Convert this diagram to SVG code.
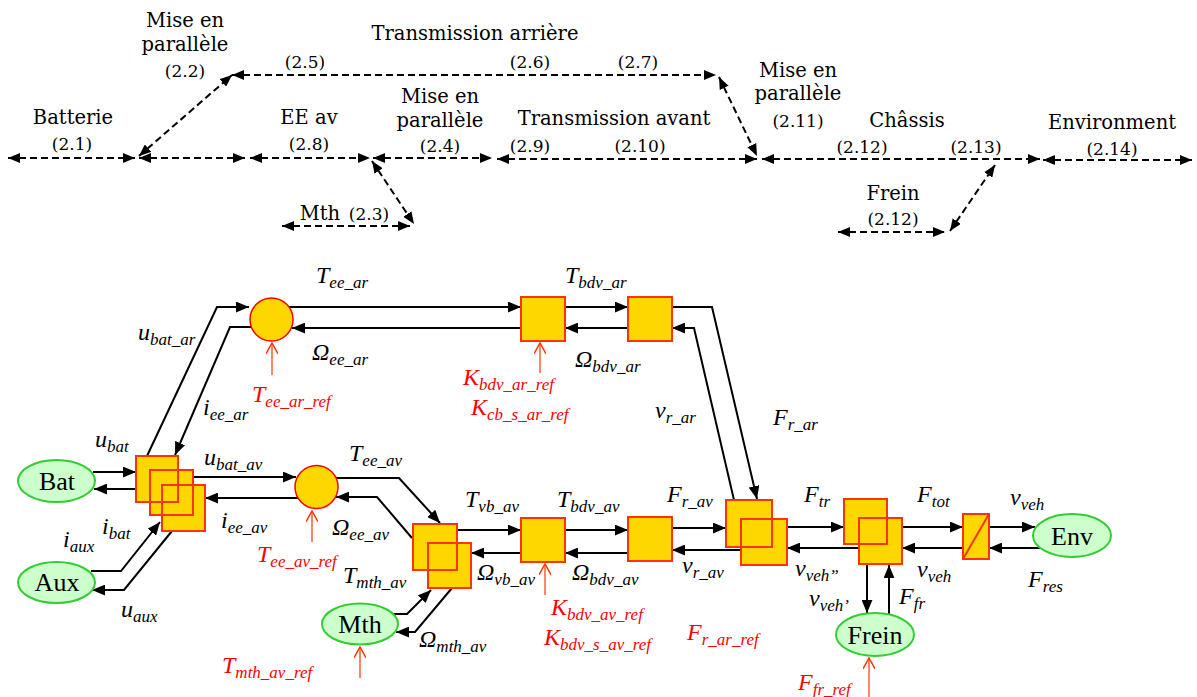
<svg xmlns="http://www.w3.org/2000/svg" width="1197" height="697" viewBox="0 0 1197 697">
<style>
.top{font-family:"DejaVu Serif","Liberation Serif",serif;font-size:19.5px;fill:#000;text-anchor:middle}
.num{font-family:"DejaVu Serif","Liberation Serif",serif;font-size:17px;fill:#000;text-anchor:middle}
.dash{fill:none;stroke:#000;stroke-width:2;stroke-dasharray:7 4;marker-start:url(#da);marker-end:url(#da)}
.lab{font-family:"Liberation Serif","Times New Roman",serif;font-style:italic;font-size:24px;fill:#000}
.red{fill:#ff0000}
.sub{font-size:17px}
.con{fill:none;stroke:#000;stroke-width:2;marker-end:url(#ah)}
.rar{fill:none;stroke:#ff3300;stroke-width:1.2;marker-end:url(#ra)}
.sq{fill:#ffd700;stroke:none}
.sqs{fill:none;stroke:#ff3300;stroke-width:2}
.circ{fill:#ffd700;stroke:#ff0000;stroke-width:1.5}
.ell{fill:#ccffcc;stroke:#33cc33;stroke-width:2}
.nl{font-family:"Liberation Serif","Times New Roman",serif;font-size:26px;fill:#000;text-anchor:middle}
</style>
<defs>
<marker id="da" markerUnits="userSpaceOnUse" markerWidth="12" markerHeight="10" refX="11" refY="4.5" orient="auto-start-reverse" viewBox="0 0 11 9"><path d="M0,0 L11,4.5 L0,9 z" fill="#000"/></marker>
<marker id="ah" markerUnits="userSpaceOnUse" markerWidth="13" markerHeight="11" refX="12" refY="5" orient="auto" viewBox="0 0 12 10"><path d="M0,0 L12,5 L0,10 z" fill="#000"/></marker>
<marker id="ra" markerUnits="userSpaceOnUse" markerWidth="12" markerHeight="12" refX="9" refY="5" orient="auto" viewBox="0 0 10 10"><path d="M0,0 L9,5 L0,10" fill="none" stroke="#ff3300" stroke-width="1.2"/></marker>
</defs>

<g id="top-structure">
<text class="top" x="185" y="27">Mise en</text>
<text class="top" x="185" y="51">parallèle</text>
<text class="num" x="185" y="77">(2.2)</text>
<text class="top" x="475" y="40">Transmission arrière</text>
<text class="num" x="305" y="68">(2.5)</text>
<text class="num" x="530" y="68">(2.6)</text>
<text class="num" x="638" y="68">(2.7)</text>
<text class="top" x="73" y="124">Batterie</text>
<text class="num" x="72" y="150">(2.1)</text>
<text class="top" x="309" y="124">EE av</text>
<text class="num" x="309" y="150">(2.8)</text>
<text class="top" x="440" y="103">Mise en</text>
<text class="top" x="440" y="127">parallèle</text>
<text class="num" x="440" y="152">(2.4)</text>
<text class="top" x="614" y="125">Transmission avant</text>
<text class="num" x="530" y="152">(2.9)</text>
<text class="num" x="640" y="152">(2.10)</text>
<text class="top" x="798" y="77">Mise en</text>
<text class="top" x="798" y="100">parallèle</text>
<text class="num" x="798" y="127">(2.11)</text>
<text class="top" x="907" y="127">Châssis</text>
<text class="num" x="862" y="153">(2.12)</text>
<text class="num" x="976" y="153">(2.13)</text>
<text class="top" x="1112" y="129">Environment</text>
<text class="num" x="1112" y="155">(2.14)</text>
<text class="top" x="893" y="200">Frein</text>
<text class="num" x="893" y="225">(2.12)</text>
<text class="top" x="320" y="220">Mth</text>
<text class="num" x="369" y="220">(2.3)</text>
<path class="dash" d="M8,158 H135"/>
<path class="dash" d="M139,158 H245"/>
<path class="dash" d="M139,156 L232,75"/>
<path class="dash" d="M250,158 H370"/>
<path class="dash" d="M373,158 H492"/>
<path class="dash" d="M497,159 H757"/>
<path class="dash" d="M232,75 H716"/>
<path class="dash" d="M719,77 L757,156"/>
<path class="dash" d="M762,159 H1040"/>
<path class="dash" d="M1043,160 H1192"/>
<path class="dash" d="M282,226 H410"/>
<path class="dash" d="M372,161 L414,224"/>
<path class="dash" d="M838,232 H945"/>
<path class="dash" d="M950,231 L995,165"/>
</g>

<g id="connectors">
<path class="con" d="M93,472 H136"/>
<path class="con" d="M136,489 H94"/>
<path class="con" d="M91,571 H121 L160,522"/>
<path class="con" d="M172,531 L124,590 H92"/>
<path class="con" d="M147,456 L217,307 H249"/>
<path class="con" d="M251,327 H230 L175,455"/>
<path class="con" d="M289,307 H521"/>
<path class="con" d="M521,328 H292"/>
<path class="con" d="M565,307 H628"/>
<path class="con" d="M628,328 H565"/>
<path class="con" d="M672,307 H712 L757,499"/>
<path class="con" d="M734,500 L694,328 H672"/>
<path class="con" d="M193,477 H296"/>
<path class="con" d="M298,498 H205"/>
<path class="con" d="M336,478 H399 L440,523"/>
<path class="con" d="M412,538 L377,497 H336"/>
<path class="con" d="M457,530 H521"/>
<path class="con" d="M521,553 H471"/>
<path class="con" d="M565,530 H628"/>
<path class="con" d="M628,553 H565"/>
<path class="con" d="M393,614 H407 L431,590"/>
<path class="con" d="M452,588 L415,632 H396"/>
<path class="con" d="M672,528 H726"/>
<path class="con" d="M741,550 H672"/>
<path class="con" d="M787,527 H844"/>
<path class="con" d="M859,548 H787"/>
<path class="con" d="M902,527 H963"/>
<path class="con" d="M963,548 H902"/>
<path class="con" d="M989,527 H1035"/>
<path class="con" d="M1040,548 H989"/>
<path class="con" d="M867,564 V613"/>
<path class="con" d="M889,614 V565"/>
<path class="rar" d="M272,375 V343"/>
<path class="rar" d="M540,373 V343"/>
<path class="rar" d="M312,542 V511"/>
<path class="rar" d="M545,595 V564"/>
<path class="rar" d="M360,678 V647"/>
<path class="rar" d="M869,697 V658"/>
</g>

<g id="Bat"><ellipse class="ell" cx="56.5" cy="481" rx="38.5" ry="21"/><text class="nl" x="57" y="490">Bat</text></g>
<g id="Aux"><ellipse class="ell" cx="56.5" cy="582.5" rx="38.5" ry="20.5"/><text class="nl" x="57" y="591">Aux</text></g>
<g id="Mth"><ellipse class="ell" cx="360" cy="624" rx="38" ry="20.5"/><text class="nl" x="360" y="633">Mth</text></g>
<g id="Env"><ellipse class="ell" cx="1072" cy="535.5" rx="39" ry="21.5"/><text class="nl" x="1072" y="545">Env</text></g>
<g id="Frein"><ellipse class="ell" cx="875" cy="634.5" rx="39" ry="21.5"/><text class="nl" x="875" y="644">Frein</text></g>

<g id="pc-bat">
<rect class="sq" x="136" y="456" width="42" height="46"/>
<rect class="sq" x="150" y="470" width="43" height="45"/>
<rect class="sq" x="162" y="485" width="43" height="46"/>
<rect class="sqs" x="136" y="456" width="42" height="46"/>
<rect class="sqs" x="150" y="470" width="43" height="45"/>
<rect class="sqs" x="162" y="485" width="43" height="46"/>
</g>
<g id="ee-ar"><circle class="circ" cx="271.5" cy="319.5" r="21.5"/></g>
<g id="ee-av"><circle class="circ" cx="316.5" cy="487" r="21.5"/></g>
<g id="bdv-ar-1"><rect class="sq" x="521" y="297" width="44" height="44"/><rect class="sqs" x="521" y="297" width="44" height="44"/></g>
<g id="bdv-ar-2"><rect class="sq" x="628" y="297" width="44" height="44"/><rect class="sqs" x="628" y="297" width="44" height="44"/></g>
<g id="vb-av">
<rect class="sq" x="413" y="524" width="44" height="46"/>
<rect class="sq" x="428" y="543" width="43" height="45"/>
<rect class="sqs" x="413" y="524" width="44" height="46"/>
<rect class="sqs" x="428" y="543" width="43" height="45"/>
</g>
<g id="bdv-av-1"><rect class="sq" x="521" y="518" width="44" height="44"/><rect class="sqs" x="521" y="518" width="44" height="44"/></g>
<g id="bdv-av-2"><rect class="sq" x="628" y="517" width="44" height="44"/><rect class="sqs" x="628" y="517" width="44" height="44"/></g>
<g id="pc-r">
<rect class="sq" x="726" y="500" width="46" height="47"/>
<rect class="sq" x="741" y="519" width="46" height="46"/>
<rect class="sqs" x="726" y="500" width="46" height="47"/>
<rect class="sqs" x="741" y="519" width="46" height="46"/>
</g>
<g id="pc-tr">
<rect class="sq" x="844" y="499" width="43" height="45"/>
<rect class="sq" x="859" y="518" width="43" height="46"/>
<rect class="sqs" x="844" y="499" width="43" height="45"/>
<rect class="sqs" x="859" y="518" width="43" height="46"/>
</g>
<g id="tot"><rect class="sq" x="963" y="514" width="26" height="45"/><rect class="sqs" x="963" y="514" width="26" height="45"/><path d="M963,559 L989,514" stroke="#ff3300" stroke-width="2"/></g>

<g id="labels">
<text class="lab" x="138" y="340">u<tspan class="sub" dy="5">bat_ar</tspan></text>
<text class="lab" x="203" y="415">i<tspan class="sub" dy="5">ee_ar</tspan></text>
<text class="lab" x="95" y="447">u<tspan class="sub" dy="5">bat</tspan></text>
<text class="lab red" x="252" y="402">T<tspan class="sub" dy="5">ee_ar_ref</tspan></text>
<text class="lab" x="316" y="283">T<tspan class="sub" dy="5">ee_ar</tspan></text>
<text class="lab" x="312" y="360">Ω<tspan class="sub" dy="5">ee_ar</tspan></text>
<text class="lab red" x="463" y="385">K<tspan class="sub" dy="5">bdv_ar_ref</tspan></text>
<text class="lab red" x="471" y="415">K<tspan class="sub" dy="5">cb_s_ar_ref</tspan></text>
<text class="lab" x="565" y="283">T<tspan class="sub" dy="5">bdv_ar</tspan></text>
<text class="lab" x="575" y="367">Ω<tspan class="sub" dy="5">bdv_ar</tspan></text>
<text class="lab" x="655" y="418">v<tspan class="sub" dy="5">r_ar</tspan></text>
<text class="lab" x="773" y="425">F<tspan class="sub" dy="5">r_ar</tspan></text>
<text class="lab" x="204" y="465">u<tspan class="sub" dy="5">bat_av</tspan></text>
<text class="lab" x="221" y="528">i<tspan class="sub" dy="5">ee_av</tspan></text>
<text class="lab red" x="257" y="562">T<tspan class="sub" dy="5">ee_av_ref</tspan></text>
<text class="lab" x="102" y="534">i<tspan class="sub" dy="5">bat</tspan></text>
<text class="lab" x="63" y="547">i<tspan class="sub" dy="5">aux</tspan></text>
<text class="lab" x="121" y="617">u<tspan class="sub" dy="5">aux</tspan></text>
<text class="lab red" x="222" y="673">T<tspan class="sub" dy="5">mth_av_ref</tspan></text>
<text class="lab" x="349" y="461">T<tspan class="sub" dy="5">ee_av</tspan></text>
<text class="lab" x="332" y="535">Ω<tspan class="sub" dy="5">ee_av</tspan></text>
<text class="lab" x="465" y="507">T<tspan class="sub" dy="5">vb_av</tspan></text>
<text class="lab" x="557" y="507">T<tspan class="sub" dy="5">bdv_av</tspan></text>
<text class="lab" x="477" y="580">Ω<tspan class="sub" dy="5">vb_av</tspan></text>
<text class="lab" x="572" y="580">Ω<tspan class="sub" dy="5">bdv_av</tspan></text>
<text class="lab" x="343" y="583">T<tspan class="sub" dy="5">mth_av</tspan></text>
<text class="lab" x="419" y="647">Ω<tspan class="sub" dy="5">mth_av</tspan></text>
<text class="lab red" x="551" y="615">K<tspan class="sub" dy="5">bdv_av_ref</tspan></text>
<text class="lab red" x="544" y="645">K<tspan class="sub" dy="5">bdv_s_av_ref</tspan></text>
<text class="lab" x="667" y="502">F<tspan class="sub" dy="5">r_av</tspan></text>
<text class="lab" x="682" y="573">v<tspan class="sub" dy="5">r_av</tspan></text>
<text class="lab" x="804" y="502">F<tspan class="sub" dy="5">tr</tspan></text>
<text class="lab" x="795" y="576">v<tspan class="sub" dy="5">veh”</tspan></text>
<text class="lab" x="917" y="502">F<tspan class="sub" dy="5">tot</tspan></text>
<text class="lab" x="917" y="577">v<tspan class="sub" dy="5">veh</tspan></text>
<text class="lab" x="809" y="606">v<tspan class="sub" dy="5">veh’</tspan></text>
<text class="lab" x="899" y="604">F<tspan class="sub" dy="5">fr</tspan></text>
<text class="lab red" x="687" y="640">F<tspan class="sub" dy="5">r_ar_ref</tspan></text>
<text class="lab red" x="798" y="690">F<tspan class="sub" dy="5">fr_ref</tspan></text>
<text class="lab" x="1010" y="505">v<tspan class="sub" dy="5">veh</tspan></text>
<text class="lab" x="1028" y="587">F<tspan class="sub" dy="5">res</tspan></text>
</g>
</svg>
